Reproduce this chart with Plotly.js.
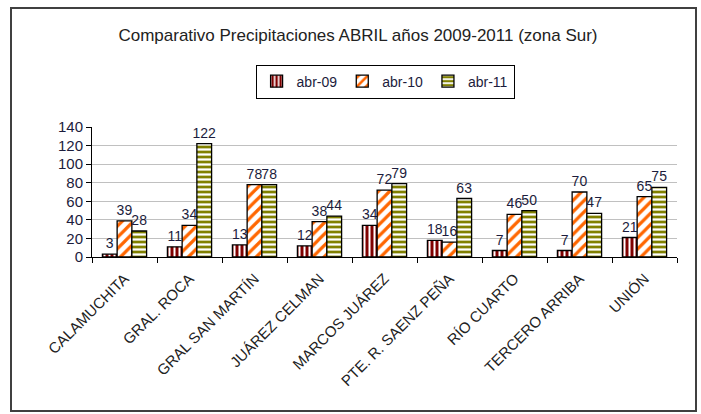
<!DOCTYPE html>
<html>
<head>
<meta charset="utf-8">
<script src="https://cdn.plot.ly/plotly-3.0.1.min.js"></script>
<style>
html,body{margin:0;padding:0;background:#fff;}
#chart{width:701px;height:414px;}
</style>
</head>
<body>
<div id="chart"></div>
<script>
const categories = ["CALAMUCHITA","GRAL. ROCA","GRAL SAN MARTÍN","JUÁREZ CELMAN","MARCOS JUÁREZ","PTE. R. SAENZ PEÑA","RÍO CUARTO","TERCERO ARRIBA","UNIÓN"];
const seriesNames = ["abr-09","abr-10","abr-11"];
const abr09 = [3, 11, 13, 12, 34, 18, 7, 7, 21];
const abr10 = [39, 34, 78, 38, 72, 16, 46, 70, 65];
const abr11 = [28, 122, 78, 44, 79, 63, 50, 47, 75];
const yTicks = [0, 20, 40, 60, 80, 100, 120, 140];

const textColor = "#1c1c3c";
const font = "Arial, 'Liberation Sans', sans-serif";

function mk(name, vals, bg, fg, shape, size, sol) {
  return {
    type: "bar", name: name, x: categories, y: vals,
    text: vals.map(String), textposition: "outside", cliponaxis: false, constraintext: "none",
    textfont: {family: font, size: 14, color: textColor},
    marker: {
      color: bg,
      line: {color: "#000", width: 1.3},
      pattern: {shape: shape, bgcolor: bg, fgcolor: fg, fillmode: "replace", size: size, solidity: sol}
    }
  };
}

const data = [
  mk(seriesNames[0], abr09, "#800000", "#ffffff", "|", 5, 0.4),
  mk(seriesNames[1], abr10, "#ffffff", "#ff6600", "/", 8, 0.4),
  mk(seriesNames[2], abr11, "#808000", "#ffffff", "-", 5, 0.45)
];

const layout = {
  width: 701, height: 414,
  margin: {l: 92, r: 24, t: 127, b: 157},
  paper_bgcolor: "#fff", plot_bgcolor: "#fff",
  font: {family: font, color: textColor},
  title: {text: "Comparativo Precipitaciones ABRIL años 2009-2011 (zona Sur)",
          x: 358/701, xanchor: "center", xref: "container", yref: "container", y: 1 - 35/414, yanchor: "middle",
          font: {family: font, size: 17, color: "#222"}},
  barmode: "group", bargap: 0.32, bargroupgap: 0,
  showlegend: true,
  legend: {orientation: "h", x: 0.501, xanchor: "center", y: 1.48, yanchor: "top",
           bordercolor: "#000", borderwidth: 1, bgcolor: "#fff",
           font: {family: font, size: 14, color: textColor},
           itemwidth: 30, traceorder: "normal"},
  xaxis: {type: "category", showline: true, linecolor: "#000", linewidth: 1,
          ticks: "outside", tickson: "boundaries", ticklen: 5, tickcolor: "#000",
          ticklabelstandoff: 6,
          tickangle: -45, tickfont: {family: font, size: 15, color: "#222"}, showgrid: false},
  yaxis: {range: [0, 140], tickvals: yTicks, showline: true, linecolor: "#000", linewidth: 1,
          ticks: "outside", ticklen: 5, tickcolor: "#000",
          showgrid: true, gridcolor: "#c0c0c0", gridwidth: 1, zeroline: false,
          tickfont: {family: font, size: 15, color: textColor}},
  shapes: [{type: "rect", xref: "paper", yref: "paper",
            x0: (11-92)/585, x1: (696-92)/585, y0: (257-411)/130, y1: (257-8)/130,
            line: {color: "#404040", width: 2}}]
};

Plotly.newPlot("chart", data, layout, {displayModeBar: false, staticPlot: true});
</script>
</body>
</html>
